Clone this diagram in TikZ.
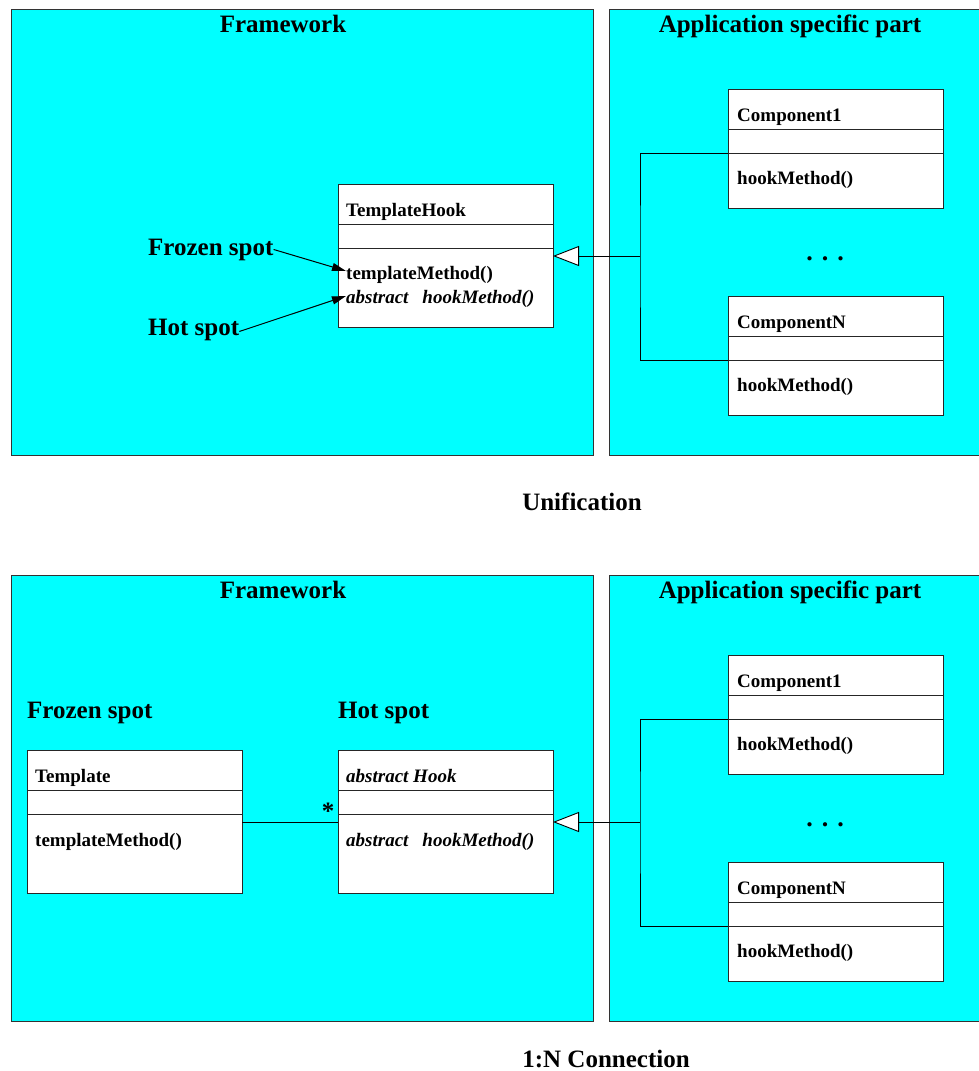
\documentclass[tikz,border=0pt]{standalone}
\usepackage{fontspec}
\setmainfont{Liberation Serif}
\usetikzlibrary{arrows.meta,calc}
\definecolor{panelcyan}{RGB}{0,255,255}

% class box: name, x, y (north west corner), height; two compartment lines
\newcommand\umlbox[4]{%
  \node[classbox, minimum height=#4pt] (#1) at (#2,#3) {};
  \draw[divider] ($(#1.north west)+(0,40)$) -- ($(#1.north east)+(0,40)$);
  \draw[divider] ($(#1.north west)+(0,64)$) -- ($(#1.north east)+(0,64)$);
}

\begin{document}
\begin{tikzpicture}[x=1pt,y=-1pt,
  panel/.style={draw=black!80, fill=panelcyan, line width=0.8pt},
  classbox/.style={draw=black!85, fill=white, line width=0.9pt, anchor=north west,
    minimum width=215pt, inner sep=0pt, outer sep=0pt},
  divider/.style={draw=black!85, line width=0.9pt},
  big/.style={font=\fontsize{25}{30}\selectfont\bfseries, inner sep=0pt},
  small/.style={font=\fontsize{19}{23}\selectfont\bfseries, anchor=base west, inner sep=0pt},
  smallit/.style={small, font=\fontsize{19}{23}\selectfont\bfseries\itshape},
  spotarrow/.style={-{Triangle[length=14pt,width=8pt]}, line width=1pt},
  inherit/.style={-{Triangle[open,length=26pt,width=20pt,fill=white]}, line width=0.9pt},
  wire/.style={line width=0.9pt},
  ellipsis/.style={font=\fontsize{26}{30}\selectfont\bfseries, inner sep=0pt}
]
\useasboundingbox (0,0) rectangle (979,1071);

% ---------------- Unification ----------------
\path[panel] (11,9) rectangle (593,455);
\path[panel] (609,9) rectangle (985,455);
\node[big, anchor=base] (fwA) at (283,32) {Framework};
\node[big, anchor=base] (apA) at (790,32) {Application specific part};

\umlbox{th}{338}{184}{143}
\node[small] (thName) at (346,216) {TemplateHook};
\node[small] (thTm) at (346,279) {templateMethod()};
\node[smallit] (thHm) at (346,303) {abstract\hspace{14pt}hookMethod()};

\node[big, anchor=base west] (fzA) at (148,255) {Frozen spot};
\node[big, anchor=base west] (hsA) at (148,335) {Hot spot};
\coordinate (fzTipA) at (346,271);
\coordinate (hsTipA) at (346,296);
\draw[spotarrow] (fzA.east) -- (fzTipA);
\draw[spotarrow] ([yshift=-2pt]hsA.east) -- (hsTipA);

\umlbox{c1A}{728}{89}{119}
\node[small] (c1AName) at (737,121) {Component1};
\node[small] (c1AHm) at (737,184) {hookMethod()};
\umlbox{cNA}{728}{296}{119}
\node[small] (cNAName) at (737,328) {ComponentN};
\node[small] (cNAHm) at (737,391) {hookMethod()};
\node[ellipsis, anchor=base] (dotsA) at (825,260) {.\hspace{9pt}.\hspace{9pt}.};

\coordinate (jA) at (640,256);
\draw[wire] ($(c1A.north west)+(0,64)$) -| (jA) |- ($(cNA.north west)+(0,64)$);
\draw[inherit] (jA) -- (th.east |- jA);

\node[big, anchor=base] (uni) at (582,510) {Unification};

% ---------------- 1:N Connection ----------------
\path[panel] (11,575) rectangle (593,1021);
\path[panel] (609,575) rectangle (985,1021);
\node[big, anchor=base] (fwB) at (283,598) {Framework};
\node[big, anchor=base] (apB) at (790,598) {Application specific part};

\node[big, anchor=base west] (fzB) at (27,718) {Frozen spot};
\node[big, anchor=base west] (hsB) at (338,718) {Hot spot};

\umlbox{tp}{27}{750}{143}
\node[small] (tpName) at (35,782) {Template};
\node[small] (tpTm) at (35,846) {templateMethod()};

\umlbox{hk}{338}{750}{143}
\node[smallit] (hkName) at (346,782) {abstract Hook};
\node[smallit] (hkHm) at (346,846) {abstract\hspace{14pt}hookMethod()};

\coordinate (aB) at (0,822);
\draw[wire] (tp.east |- aB) -- (hk.west |- aB);
\node[big, anchor=center] (mult) at (328,811) {*};

\umlbox{c1B}{728}{655}{119}
\node[small] (c1BName) at (737,687) {Component1};
\node[small] (c1BHm) at (737,750) {hookMethod()};
\umlbox{cNB}{728}{862}{119}
\node[small] (cNBName) at (737,894) {ComponentN};
\node[small] (cNBHm) at (737,957) {hookMethod()};
\node[ellipsis, anchor=base] (dotsB) at (825,826) {.\hspace{9pt}.\hspace{9pt}.};

\coordinate (jB) at (640,822);
\draw[wire] ($(c1B.north west)+(0,64)$) -| (jB) |- ($(cNB.north west)+(0,64)$);
\draw[inherit] (jB) -- (hk.east |- jB);

\node[big, anchor=base] (conn) at (606,1067) {1:N Connection};
\end{tikzpicture}
\end{document}
